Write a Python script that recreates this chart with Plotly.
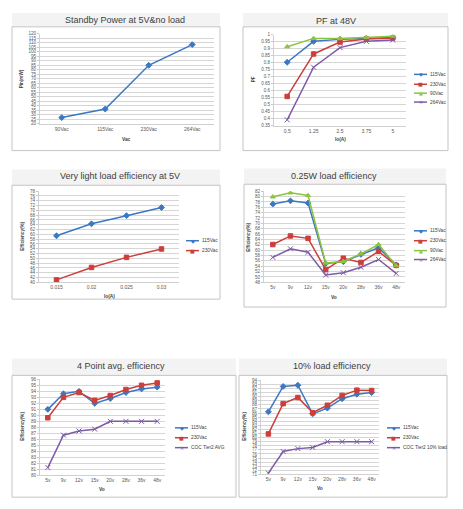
import plotly.graph_objects as go

W, H = 463, 509

# ---------------- data ----------------
standby_vac = ["90Vac", "115Vac", "230Vac", "264Vac"]
standby_pin = [27, 36.5, 85, 108]

pf_io = ["0.5", "1.25", "2.5", "3.75", "5"]
pf_115 = [0.804, 0.953, 0.967, 0.975, 0.98]
pf_230 = [0.56, 0.863, 0.948, 0.969, 0.977]
pf_90 = [0.915, 0.974, 0.973, 0.981, 0.99]
pf_264 = [0.393, 0.768, 0.908, 0.953, 0.962]

vl_io = ["0.015", "0.02", "0.025", "0.03"]
vl_115 = [59.4, 64.4, 67.8, 71.2]
vl_230 = [41.0, 46.2, 50.4, 53.9]

vo = ["5v", "9v", "12v", "15v", "20v", "28v", "36v", "48v"]
q_115 = [77.2, 78.4, 77.6, 55.0, 55.7, 58.4, 60.9, 54.5]
q_230 = [62.1, 65.3, 64.4, 52.7, 57.0, 55.4, 59.5, 54.3]
q_90 = [79.9, 81.4, 80.4, 55.2, 55.8, 58.6, 62.1, 54.2]
q_264 = [57.3, 60.5, 59.2, 50.7, 51.6, 53.6, 56.5, 51.3]

avg_115 = [91.0, 93.6, 94.0, 92.0, 92.8, 93.8, 94.4, 94.7]
avg_230 = [89.6, 93.0, 93.8, 92.5, 93.3, 94.3, 95.0, 95.4]
avg_coc = [81.3, 86.7, 87.4, 87.7, 89.0, 89.0, 89.0, 89.0]

ten_115 = [86.3, 92.5, 92.8, 85.8, 87.2, 89.5, 90.6, 91.0]
ten_230 = [80.9, 88.3, 89.8, 86.1, 87.9, 90.3, 91.6, 91.5]
ten_coc = [71.3, 76.6, 77.3, 77.6, 79.0, 79.0, 79.0, 79.0]

# ---------------- styles ----------------
BLUE, RED, GREEN, PURPLE = "#3B78C3", "#CB3F3B", "#8CC43E", "#7D5BA6"
STY = {
    "115Vac": (BLUE, "diamond", "◆"),
    "230Vac": (RED, "square", "■"),
    "90Vac": (GREEN, "triangle-up", "▲"),
    "264Vac": (PURPLE, "x-thin-open", "✕"),
    "COC Tier2 AVG": (PURPLE, "x-thin-open", "✕"),
    "COC Tier2 10% load": (PURPLE, "x-thin-open", "✕"),
}
FONT = "Liberation Sans, Arial, sans-serif"


def fx(x):
    return x / W


def fy(y):
    return 1 - y / H


panels = [
    dict(plot=(32, 206, 24, 115), frame=(4, 17, 212, 142), bar=(4, 3, 212, 17),
         title="Standby Power at 5V&no load", tpos=(117, 10),
         ytitle="Pin(mW)", ytpos=(13, 70), xtitle="Vac", xtpos=(118, 131),
         cats=standby_vac, series=[("", standby_pin, BLUE, "diamond")],
         yr=(20, 120), dt=5, legend=None),
    dict(plot=(266, 398, 25, 117), frame=(235, 17, 440, 142), bar=(235, 3, 440, 17),
         title="PF at 48V", tpos=(328, 11),
         ytitle="PF", ytpos=(245, 70), xtitle="Io(A)", xtpos=(332, 131),
         cats=pf_io,
         series=[("115Vac", pf_115), ("230Vac", pf_230), ("90Vac", pf_90), ("264Vac", pf_264)],
         yr=(0.35, 1), dt=0.05, legend=(406, [65, 75, 84, 93])),
    dict(plot=(31, 171, 183, 275), frame=(4, 177, 212, 292), bar=(4, 161, 212, 177),
         title="Very light load efficiency at 5V", tpos=(112, 168),
         ytitle="Efficiency(%)", ytpos=(15, 229), xtitle="Io(A)", xtpos=(101, 289),
         cats=vl_io, series=[("115Vac", vl_115), ("230Vac", vl_230)],
         yr=(40, 78), dt=2, legend=(178, [233, 243])),
    dict(plot=(256, 397, 183, 275), frame=(236, 176, 438, 300), bar=(236, 160, 438, 176),
         title="0.25W load efficiency", tpos=(326, 168),
         ytitle="Efficiency(%)", ytpos=(241, 229), xtitle="Vo", xtpos=(326, 290),
         cats=vo,
         series=[("115Vac", q_115), ("230Vac", q_230), ("90Vac", q_90), ("264Vac", q_264)],
         yr=(48, 82), dt=2, legend=(406, [223, 233, 243, 252])),
    dict(plot=(32, 157, 373, 470), frame=(4, 369, 228, 492), bar=(4, 352, 228, 369),
         title="4 Point avg. efficiency", tpos=(113, 360),
         ytitle="Efficiency(%)", ytpos=(15, 421), xtitle="Vo", xtpos=(94, 484),
         cats=vo,
         series=[("115Vac", avg_115), ("230Vac", avg_230), ("COC Tier2 AVG", avg_coc)],
         yr=(80, 96), dt=1, legend=(167, [422, 432, 442])),
    dict(plot=(253, 371, 374, 469), frame=(231, 369, 439, 492), bar=(231, 352, 439, 369),
         title="10% load efficiency", tpos=(324, 360),
         ytitle="Efficiency(%)", ytpos=(237, 421), xtitle="Vo", xtpos=(312, 483),
         cats=vo,
         series=[("115Vac", ten_115), ("230Vac", ten_230), ("COC Tier2 10% load", ten_coc)],
         yr=(71, 94), dt=1, legend=(379, [422, 432, 442])),
]

fig = go.Figure()
shapes, annos = [], []
layout = {}

for i, p in enumerate(panels, start=1):
    xa = "x" if i == 1 else f"x{i}"
    ya = "y" if i == 1 else f"y{i}"
    xk = "xaxis" if i == 1 else f"xaxis{i}"
    yk = "yaxis" if i == 1 else f"yaxis{i}"
    x0, x1, y0, y1 = p["plot"]

    # background / frame
    bx0, by0, bx1, by1 = p["bar"]
    shapes.append(dict(type="rect", xref="paper", yref="paper", layer="below",
                       x0=fx(bx0), x1=fx(bx1), y0=fy(by1), y1=fy(by0),
                       fillcolor="#F3F3F3", line=dict(width=0)))
    fx0, fy0, fx1, fy1 = p["frame"]
    shapes.append(dict(type="rect", xref="paper", yref="paper", layer="below",
                       x0=fx(fx0), x1=fx(fx1), y0=fy(fy1), y1=fy(fy0),
                       fillcolor="white", line=dict(color="#C4C4C4", width=1)))

    for s in p["series"]:
        if len(s) == 4:
            name, vals, col, sym = s
        else:
            name, vals = s
            col, sym, _ = STY[name]
        fig.add_trace(go.Scatter(
            x=p["cats"], y=vals, xaxis=xa, yaxis=ya, mode="lines+markers",
            name=name, showlegend=False,
            line=dict(color=col, width=1.5),
            marker=dict(symbol=sym, size=4.5 if "x" not in sym else 5, color=col,
                        line=dict(color=col, width=1)),
        ))

    layout[xk] = dict(domain=[fx(x0), fx(x1)], anchor=ya, type="category",
                      range=[-0.5, len(p["cats"]) - 0.5], showgrid=False,
                      showline=True, linecolor="#D0D0D0", linewidth=1,
                      ticks="", tickfont=dict(size=5, color="#595959", family=FONT),
                      fixedrange=True)
    layout[yk] = dict(domain=[fy(y1), fy(y0)], anchor=xa, range=list(p["yr"]),
                      dtick=p["dt"], tick0=p["yr"][0], showgrid=True,
                      gridcolor="#D6D6D6", gridwidth=1, zeroline=False,
                      showline=True, linecolor="#D0D0D0", linewidth=1,
                      ticks="outside", ticklen=2, tickcolor="#C8C8C8",
                      tickfont=dict(size=4.6, color="#595959", family=FONT),
                      fixedrange=True)

    # titles
    annos.append(dict(text=p["title"], x=fx(p["tpos"][0]), y=fy(p["tpos"][1]),
                      xref="paper", yref="paper", showarrow=False,
                      xanchor="center", yanchor="middle",
                      font=dict(size=9, color="#404040", family=FONT)))
    annos.append(dict(text=f"<b>{p['ytitle']}</b>", x=fx(p["ytpos"][0]), y=fy(p["ytpos"][1]),
                      xref="paper", yref="paper", showarrow=False, textangle=-90,
                      xanchor="center", yanchor="middle",
                      font=dict(size=4.6, color="#404040", family=FONT)))
    annos.append(dict(text=f"<b>{p['xtitle']}</b>", x=fx(p["xtpos"][0]), y=fy(p["xtpos"][1]),
                      xref="paper", yref="paper", showarrow=False,
                      xanchor="center", yanchor="middle",
                      font=dict(size=4.8, color="#404040", family=FONT)))

    # legend (drawn as decoration)
    if p["legend"]:
        lx, lys = p["legend"]
        for (s, ly) in zip(p["series"], lys):
            name = s[0]
            col, sym, glyph = STY[name]
            shapes.append(dict(type="line", xref="paper", yref="paper",
                               x0=fx(lx), x1=fx(lx + 13), y0=fy(ly), y1=fy(ly),
                               line=dict(color=col, width=1.5)))
            annos.append(dict(text=glyph, x=fx(lx + 6.5), y=fy(ly), xref="paper", yref="paper",
                              showarrow=False, xanchor="center", yanchor="middle",
                              font=dict(size=5, color=col, family="DejaVu Sans")))
            annos.append(dict(text=name, x=fx(lx + 14), y=fy(ly), xref="paper", yref="paper",
                              showarrow=False, xanchor="left", yanchor="middle",
                              font=dict(size=4.8, color="#404040", family=FONT)))

fig.update_layout(
    width=W, height=H, margin=dict(l=0, r=0, t=0, b=0),
    paper_bgcolor="white", plot_bgcolor="rgba(0,0,0,0)",
    showlegend=False, shapes=shapes, annotations=annos,
    font=dict(family=FONT), **layout,
)

fig.write_html("out.html")
